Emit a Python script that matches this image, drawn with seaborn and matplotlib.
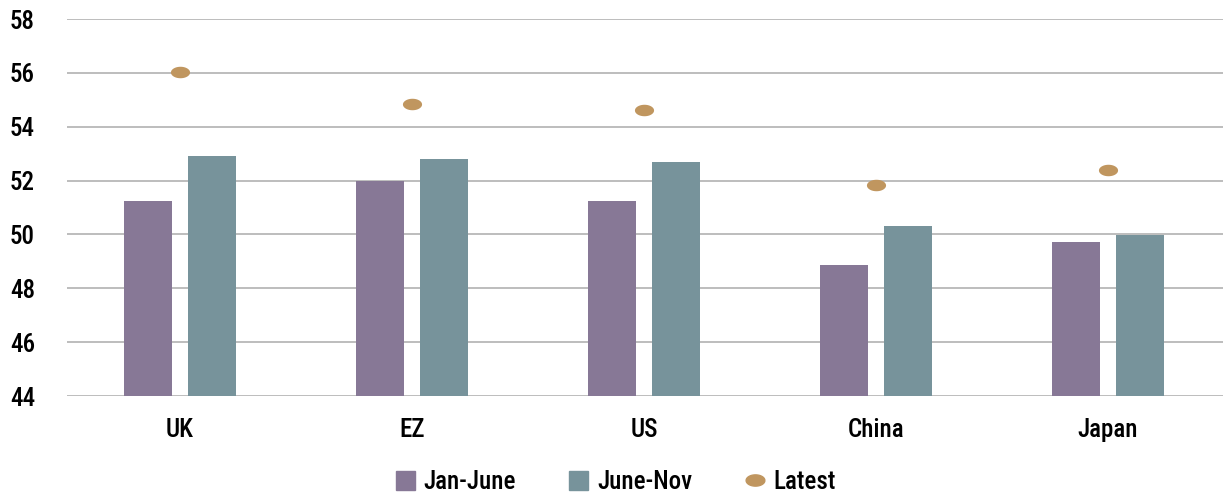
import numpy as np
import pandas as pd
import matplotlib
matplotlib.use("Agg")
import matplotlib.pyplot as plt
from matplotlib.path import Path
from matplotlib.lines import Line2D
from matplotlib.patches import Patch
import seaborn as sns

regions = ["UK", "EZ", "US", "China", "Japan"]
jan_june = [51.25, 51.98, 51.25, 48.86, 49.72]
june_nov = [52.92, 52.80, 52.70, 50.32, 49.98]
latest = [56.03, 54.84, 54.63, 51.83, 52.39]

c_jan = "#877896"
c_nov = "#77939b"
c_lat = "#c0965f"

sns.set_style("white")
plt.rcParams["font.family"] = ["Roboto Condensed", "DejaVu Sans"]
plt.rcParams["font.weight"] = 500

df = pd.DataFrame({
    "region": regions * 2,
    "period": ["Jan-June"] * 5 + ["June-Nov"] * 5,
    "value": jan_june + june_nov,
})

# ellipse marker for the "Latest" dots
t = np.linspace(0, 2 * np.pi, 60)
ellipse = Path(np.column_stack([np.cos(t), 0.6 * np.sin(t)]))

fig = plt.figure(figsize=(12.23, 4.93), dpi=100)
ax = fig.add_axes([67 / 1223, 97 / 493, 1 - 67 / 1223, 377 / 493])

sns.barplot(data=df, x="region", y="value", hue="period",
            palette=[c_jan, c_nov], width=0.55, gap=0.24, saturation=1,
            ax=ax, legend=False, linewidth=0)
ax.scatter(range(len(regions)), latest, marker=ellipse, s=190,
           color=c_lat, zorder=5, linewidths=0)

ax.set_ylim(44, 58)
ax.set_xlim(-0.487, 4.496)
ax.set_yticks(range(44, 59, 2))
ax.yaxis.grid(True, color="#bdbdbd", linewidth=1.4)
ax.set_axisbelow(True)
for s in ax.spines.values():
    s.set_visible(False)
ax.tick_params(axis="both", length=0, labelsize=18, colors="black")
ax.tick_params(axis="y", pad=41)
ax.tick_params(axis="x", pad=16)
ax.set_xlabel("")
ax.set_ylabel("")
for lbl in ax.get_yticklabels():
    lbl.set_horizontalalignment("left")

handles = [
    Patch(color=c_jan, label="Jan-June"),
    Patch(color=c_nov, label="June-Nov"),
    Line2D([], [], marker=ellipse, linestyle="none", color=c_lat,
           markersize=13.5, label="Latest"),
]
fig.legend(handles=handles, loc="center", ncol=3, frameon=False,
           bbox_to_anchor=(0.5 + 4 / 1223, 11 / 493), prop={"size": 18, "weight": 500},
           labelcolor="black", handlelength=0.78, handleheight=0.78,
           columnspacing=2.1, handletextpad=0.35, borderpad=0)

fig.savefig("out.png", dpi=100)
